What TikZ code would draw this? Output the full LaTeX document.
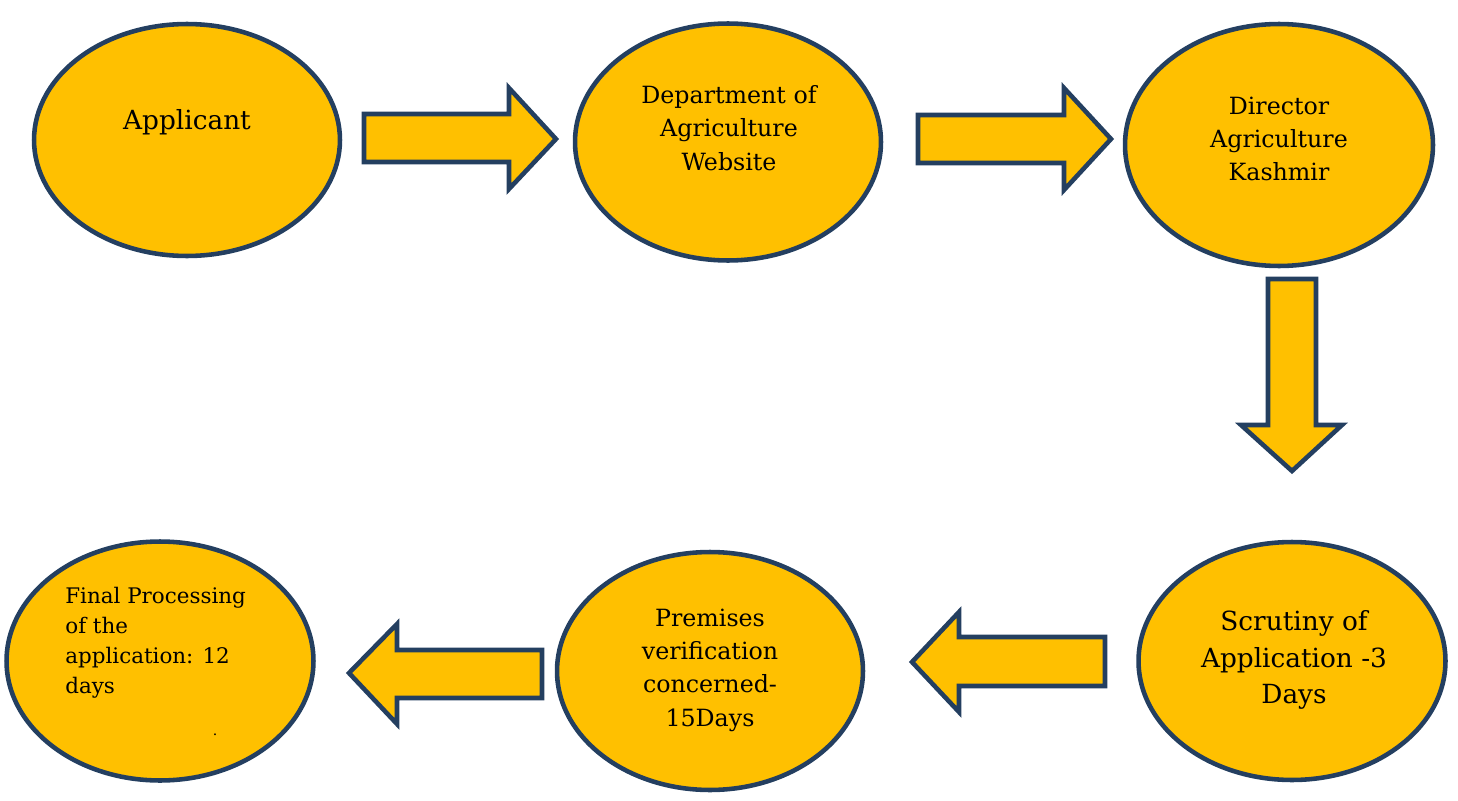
\documentclass[tikz,border=0pt]{standalone}
\usepackage{fontspec}
\setmainfont{DejaVu Serif}
\usetikzlibrary{shapes.geometric}

\definecolor{boxgold}{HTML}{FFC000}
\definecolor{edgenavy}{HTML}{243F60}

\tikzset{
  stage/.style={ellipse, draw=edgenavy, fill=boxgold, line width=2.6pt, inner sep=0pt},
  blockarrow/.style={draw=edgenavy, fill=boxgold, line width=2.6pt, line join=miter},
  stagetext/.style={align=center, inner sep=0pt, text=black}
}

\begin{document}
\begin{tikzpicture}[x=0.02cm, y=-0.02cm]
\useasboundingbox (0,0) rectangle (1458,801);

% top row
\node[stage, minimum width=6.12cm, minimum height=4.64cm] (applicant) at (187,140) {};
\node[stagetext, font=\fontsize{15}{21}\selectfont] (applicant-txt) at (187,122) {Applicant};

\node[stage, minimum width=6.12cm, minimum height=4.74cm] (website) at (728,142) {};
\node[stagetext, font=\fontsize{13.5}{19}\selectfont] (website-txt) at (729,128)
  {Department of\\Agriculture\\Website};

\node[stage, minimum width=6.16cm, minimum height=4.84cm] (director) at (1279,145) {};
\node[stagetext, font=\fontsize{13.5}{19}\selectfont] (director-txt) at (1279,139)
  {Director\\Agriculture\\Kashmir};

% bottom row
\node[stage, minimum width=6.14cm, minimum height=4.76cm] (scrutiny) at (1292,661) {};
\node[stagetext, font=\fontsize{15}{21}\selectfont] (scrutiny-txt) at (1294,660)
  {Scrutiny of\\Application -3\\Days};

\node[stage, minimum width=6.12cm, minimum height=4.76cm] (premises) at (710,671) {};
\node[stagetext, font=\fontsize{13.5}{19}\selectfont] (premises-txt) at (710,670)
  {Premises\\verification\\concerned-\\15Days};

\node[stage, minimum width=6.14cm, minimum height=4.78cm] (final) at (160,661) {};
\node[stagetext, align=left, anchor=west, font=\fontsize{12.2}{17}\selectfont] (final-txt) at (65,643)
  {Final Processing\\of the\\application: 12\\days};
\node[inner sep=0pt, font=\fontsize{8}{8}\selectfont] (final-dot) at (215,735) {.};

% block arrows
\draw[blockarrow] (364,114) -- (509,114) -- (509,88) -- (556,139) -- (509,189) -- (509,162) -- (364,162) -- cycle;
\draw[blockarrow] (918,115) -- (1064,115) -- (1064,88) -- (1111,139) -- (1064,190) -- (1064,163) -- (918,163) -- cycle;
\draw[blockarrow] (1268,279) -- (1316,279) -- (1316,425) -- (1342,425) -- (1292,471) -- (1241,425) -- (1268,425) -- cycle;
\draw[blockarrow] (1105,637) -- (959,637) -- (959,612) -- (912,662) -- (959,712) -- (959,686) -- (1105,686) -- cycle;
\draw[blockarrow] (542,650) -- (397,650) -- (397,624) -- (349,673) -- (397,724) -- (397,698) -- (542,698) -- cycle;

\end{tikzpicture}
\end{document}
